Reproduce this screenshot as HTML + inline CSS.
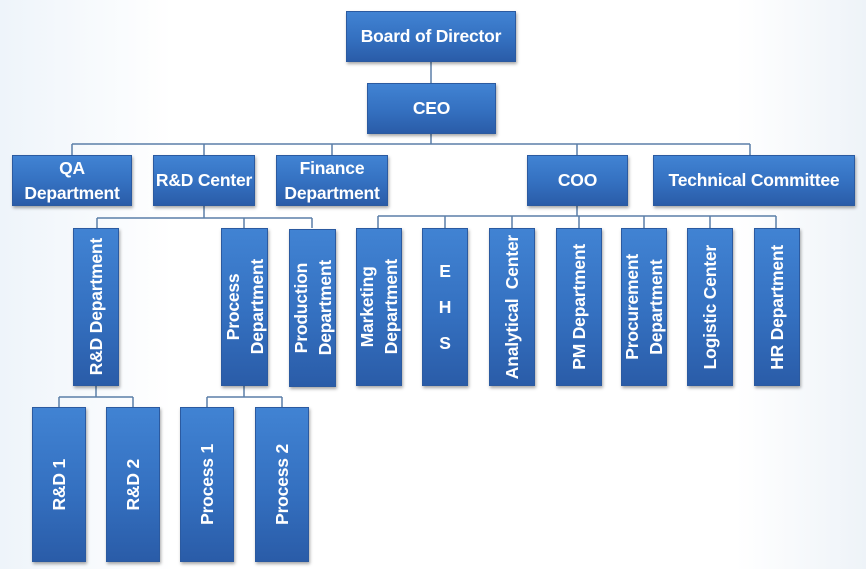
<!DOCTYPE html>
<html><head><meta charset="utf-8"><style>
body{margin:0;width:866px;height:569px;overflow:hidden;background:linear-gradient(90deg,#eef4fa 0%,#ffffff 20%,#ffffff 85%,#eef3f8 100%);font-family:"Liberation Sans",sans-serif;position:relative}
.b{position:absolute;background:linear-gradient(180deg,#4183d3 0%,#3470c0 55%,#2a5ca8 100%);color:#fff;font-weight:bold;font-size:17.5px;letter-spacing:-0.2px;display:flex;align-items:center;justify-content:center;text-align:center;line-height:25px;box-shadow:1px 2px 3px rgba(0,0,0,.35);border:1px solid #2b5aa0;box-sizing:border-box;white-space:nowrap}
.v span{writing-mode:vertical-rl;transform:rotate(180deg);line-height:24px}
svg{position:absolute;left:0;top:0}
</style></head><body>
<svg width="866" height="569"><g stroke="#5b7fa8" stroke-width="1.5" fill="none">
<path d="M431 62V83M431 134V144M72 144H750M72 144V155M204 144V155M332 144V155M577 144V155M750 144V155"/>
<path d="M204 206V218M97 218H312M97 218V228M244 218V228M312 218V228"/>
<path d="M577 206V216M378 216H776M378 216V228M445 216V228M512 216V228M579 216V228M644 216V228M710 216V228M776 216V228"/>
<path d="M96 386V397M59 397H133M59 397V407M133 397V407M244 386V397M207 397H282M207 397V407M282 397V407"/>
</g></svg>
<div class="b" style="left:346px;top:11px;width:170px;height:51px">Board of Director</div>
<div class="b" style="left:367px;top:83px;width:129px;height:51px">CEO</div>
<div class="b" style="left:12px;top:155px;width:120px;height:51px">QA<br>Department</div>
<div class="b" style="left:153px;top:155px;width:102px;height:51px">R&amp;D Center</div>
<div class="b" style="left:276px;top:155px;width:112px;height:51px">Finance<br>Department</div>
<div class="b" style="left:527px;top:155px;width:101px;height:51px">COO</div>
<div class="b" style="left:653px;top:155px;width:202px;height:51px">Technical Committee</div>
<div class="b v" style="left:73px;top:228px;width:46px;height:158px"><span>R&amp;D Department</span></div>
<div class="b v" style="left:221px;top:228px;width:47px;height:158px"><span>Process<br>Department</span></div>
<div class="b v" style="left:289px;top:229px;width:47px;height:158px"><span>Production<br>Department</span></div>
<div class="b v" style="left:356px;top:228px;width:46px;height:158px"><span>Marketing<br>Department</span></div>
<div class="b" style="left:422px;top:228px;width:46px;height:158px;line-height:36px">E<br>H<br>S</div>
<div class="b v" style="left:489px;top:228px;width:46px;height:158px"><span>Analytical&nbsp; Center</span></div>
<div class="b v" style="left:556px;top:228px;width:46px;height:158px"><span>PM Department</span></div>
<div class="b v" style="left:621px;top:228px;width:46px;height:158px"><span>Procurement<br>Department</span></div>
<div class="b v" style="left:687px;top:228px;width:46px;height:158px"><span>Logistic Center</span></div>
<div class="b v" style="left:754px;top:228px;width:46px;height:158px"><span>HR Department</span></div>
<div class="b v" style="left:32px;top:407px;width:54px;height:155px"><span>R&amp;D 1</span></div>
<div class="b v" style="left:106px;top:407px;width:54px;height:155px"><span>R&amp;D 2</span></div>
<div class="b v" style="left:180px;top:407px;width:54px;height:155px"><span>Process 1</span></div>
<div class="b v" style="left:255px;top:407px;width:54px;height:155px"><span>Process 2</span></div>
</body></html>
